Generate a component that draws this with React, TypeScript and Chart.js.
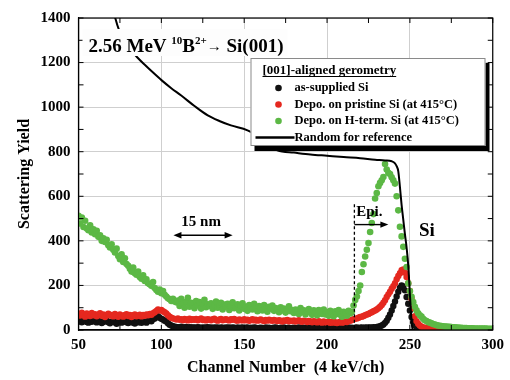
import { useEffect, useRef } from "react";
import { Chart, registerables } from "chart.js";

Chart.register(...registerables);

// ---- data -------------------------------------------------------------
const FIRST_CHANNEL = 50; // channel of the first value in each yield array

// [001]-aligned, as-supplied Si (black)
const asSupplied = [
  38, 42, 35, 40, 44, 36, 33, 41, 37, 45,
  39, 34, 42, 38, 31, 36, 40, 43, 35, 30,
  37, 41, 34, 28, 36, 39, 33, 38, 42, 35,
  31, 36, 40, 33, 29, 37, 34, 39, 32, 36,
  38, 33, 41, 45, 39, 48, 52, 58, 62, 55,
  50, 47, 42, 38, 30, 24, 20, 17, 15, 14,
  13, 12, 15, 11, 12, 14, 10, 13, 12, 11,
  12, 10, 13, 11, 9, 12, 10, 11, 13, 10,
  11, 9, 12, 10, 11, 8, 12, 10, 9, 11,
  10, 12, 9, 11, 10, 8, 11, 9, 10, 12,
  9, 10, 11, 8, 10, 9, 11, 10, 8, 9,
  10, 9, 8, 11, 9, 10, 8, 9, 10, 11,
  9, 8, 10, 9, 11, 8, 9, 10, 8, 9,
  10, 8, 9, 11, 9, 8, 10, 9, 8, 10,
  9, 10, 8, 9, 10, 8, 9, 11, 9, 8,
  10, 9, 8, 10, 9, 11, 9, 8, 10, 9,
  8, 10, 9, 11, 9, 10, 8, 10, 11, 9,
  10, 11, 9, 12, 10, 11, 12, 10, 13, 12,
  14, 15, 17, 20, 25, 32, 42, 55, 70, 88,
  108, 128, 150, 172, 190, 200, 195, 178, 148, 118,
  88, 58, 35, 20, 12, 8, 6, 5, 4, 4,
  3, 4, 3, 2, 3, 2, 3, 2, 2, 3,
  2, 2, 3, 2, 2, 1, 2, 2, 1, 2,
  2, 1, 2, 1, 2, 1, 1, 2, 1, 1,
  1, 2, 1, 1, 1, 2, 1, 1, 1, 1,
  1,
];

// Depo. on pristine Si (red)
const pristine = [
  72, 65, 78, 68, 60, 74, 70, 63, 76, 66,
  71, 62, 69, 75, 64, 70, 58, 67, 73, 65,
  68, 61, 72, 66, 59, 70, 64, 60, 68, 71,
  63, 67, 58, 66, 70, 62, 65, 69, 61, 67,
  64, 70, 66, 72, 68, 75, 80, 86, 92, 88,
  90, 84, 80, 74, 66, 60, 55, 52, 50, 47,
  52, 46, 49, 44, 50, 47, 43, 51, 45, 48,
  46, 50, 44, 48, 52, 45, 47, 43, 49, 46,
  44, 48, 51, 45, 42, 47, 50, 44, 46, 49,
  45, 43, 48, 46, 50, 44, 42, 47, 45, 43,
  48, 44, 46, 41, 45, 49, 43, 46, 42, 45,
  47, 43, 40, 45, 42, 46, 44, 41, 45, 43,
  40, 44, 42, 38, 43, 41, 45, 39, 42, 40,
  43, 38, 41, 44, 39, 37, 42, 40, 36, 41,
  38, 35, 40, 37, 34, 39, 36, 33, 38, 35,
  34, 37, 32, 36, 33, 35, 31, 34, 37, 33,
  35, 38, 36, 40, 42, 45, 48, 50, 52, 55,
  58, 60, 63, 66, 70, 72, 76, 80, 84, 88,
  92, 98, 104, 112, 122, 134, 148, 160, 172, 185,
  196, 210, 228, 242, 255, 268, 272, 258, 238, 210,
  175, 140, 98, 62, 40, 28, 20, 15, 12, 10,
  9, 8, 7, 7, 6, 6, 5, 5, 5, 4,
  4, 4, 4, 3, 3, 3, 3, 3, 3, 2,
  3, 2, 2, 2, 2, 2, 2, 2, 2, 2,
  2, 2, 1, 2, 1, 2, 1, 1, 2, 1,
  1,
];

// Depo. on H-terminated Si (green)
const hTerm = [
  512, 478, 505, 462, 490, 455, 448, 470, 438, 452,
  430, 445, 418, 425, 400, 412, 395, 405, 380, 370,
  385, 360, 348, 365, 332, 318, 340, 305, 322, 296,
  288, 275, 262, 280, 255, 248, 262, 238, 230, 245,
  220, 228, 210, 205, 198, 215, 188, 180, 172, 182,
  165, 175, 158, 150, 142, 138, 130, 140, 128, 124,
  132, 108, 140, 118, 100, 126, 145, 104, 122, 112,
  98, 130, 110, 125, 96, 118, 135, 102, 115, 108,
  120, 95, 112, 128, 100, 108, 122, 92, 114, 105,
  118, 90, 106, 124, 98, 102, 115, 88, 108, 120,
  95, 104, 86, 112, 100, 92, 118, 96, 84, 108,
  100, 88, 112, 94, 82, 104, 96, 110, 86, 98,
  92, 80, 102, 88, 96, 78, 94, 106, 84, 90,
  76, 92, 86, 72, 98, 80, 88, 70, 84, 94,
  78, 68, 88, 82, 66, 90, 76, 72, 92, 70,
  80, 64, 86, 74, 62, 84, 72, 90, 68, 60,
  82, 70, 64, 86, 74, 82, 110, 135, 150, 175,
  200, 260, 295, 330, 360, 390, 440, 480, 520, 590,
  615, 645, 660, 672, 686, 745, 720, 705, 700, 685,
  672, 657, 600, 537, 463, 420, 373, 320, 283, 209,
  175, 149, 125, 104, 88, 75, 66, 60, 50, 44,
  40, 36, 33, 30, 27, 25, 22, 20, 19, 18,
  17, 16, 15, 14, 14, 13, 12, 12, 11, 11,
  10, 10, 9, 9, 9, 8, 8, 8, 8, 7,
  7, 7, 7, 6, 6, 6, 6, 5, 5, 5,
  5,
];

// Random spectrum for reference (black line)
const randomChannels = [
  70, 72, 74.6, 78, 81, 85.4, 90, 95, 100.4, 106, 112, 120, 128, 135, 142,
  152, 160, 170, 180, 190, 200, 210, 220, 229, 235, 239, 241, 242, 243,
  244, 245, 246, 247, 248, 249, 250, 251, 251.6, 253,
];
const randomYield = [
  1470, 1405, 1343, 1295, 1262, 1224, 1190, 1155, 1119, 1085, 1052, 1005, 963, 938, 918,
  896, 860, 806, 796, 788, 782, 776, 771, 764, 761, 757, 748, 735, 712,
  640, 560, 495, 430, 370, 290, 160, 40, 0, 0,
];

const X_MIN = 50, X_MAX = 300, X_STEP = 50, X_MINOR = 25;
const Y_MIN = 0, Y_MAX = 1400, Y_STEP = 200, Y_MINOR = 100;

const legendTitle = "[001]-aligned gerometry";
const seriesNames = [
  "as-supplied Si",
  "Depo. on pristine Si (at 415\u00B0C)",
  "Depo. on H-term. Si (at 415\u00B0C)",
  "Random for reference",
];
const COLORS = { black: "#111111", red: "#e5281f", green: "#5cb845" };
const SERIF = "'Liberation Serif', 'Times New Roman', serif";

const toPoints = (vals: number[]) =>
  vals.map((v, i) => ({ x: FIRST_CHANNEL + i, y: v }));

const overlay = {
  id: "overlay",
  afterDatasetsDraw(chart: any) {
    const { ctx, chartArea: a, scales } = chart;
    const xs = scales.x, ys = scales.y;
    const px = (v: number) => xs.getPixelForValue(v);
    const py = (v: number) => ys.getPixelForValue(v);
    const font = (s: number) => `bold ${s}px ${SERIF}`;
    const line = (x1: number, y1: number, x2: number, y2: number) => {
      ctx.beginPath(); ctx.moveTo(x1, y1); ctx.lineTo(x2, y2); ctx.stroke();
    };
    const head = (x: number, y: number, dir: number) => {
      ctx.beginPath();
      ctx.moveTo(x, y);
      ctx.lineTo(x - dir * 8, y - 3.2);
      ctx.lineTo(x - dir * 8, y + 3.2);
      ctx.closePath(); ctx.fill();
    };
    ctx.save();
    ctx.strokeStyle = "#000"; ctx.fillStyle = "#000";

    // frame + inward ticks
    ctx.lineWidth = 1.2;
    ctx.strokeRect(a.left, a.top, a.right - a.left, a.bottom - a.top);
    ctx.lineWidth = 1;
    for (let c = X_MIN; c <= X_MAX; c += X_MINOR) {
      const p = px(c);
      line(p, a.bottom, p, a.bottom - 5);
      line(p, a.top, p, a.top + 5);
    }
    for (let v = Y_MIN; v <= Y_MAX; v += Y_MINOR) {
      const p = py(v);
      line(a.left, p, a.left + 5, p);
      line(a.right, p, a.right - 5, p);
    }

    // 15 nm double arrow
    ctx.font = font(15); ctx.textBaseline = "middle"; ctx.textAlign = "center";
    ctx.fillText("15 nm", px(124), py(484));
    ctx.lineWidth = 1.4;
    const ay = py(425);
    line(px(107.3) + 4, ay, px(143) - 4, ay);
    head(px(107.3), ay, -1); head(px(143), ay, 1);

    // Epi. marker
    ctx.setLineDash([3, 2.5]); ctx.lineWidth = 1.3;
    line(px(216.5), py(564), px(216.5), a.bottom);
    ctx.setLineDash([]);
    ctx.textAlign = "left";
    ctx.fillText("Epi.", px(217.6), py(528));
    const ey = py(473);
    ctx.lineWidth = 1.4;
    line(px(216.5), ey, px(237) - 4, ey);
    head(px(237), ey, 1);

    // Si surface label
    ctx.font = font(19);
    ctx.fillText("Si", px(255.5), py(443));

    // title box
    const tx = a.left + 10, tb = a.top + 34;
    ctx.fillStyle = "#fdfdfd";
    ctx.fillRect(a.left + 4, a.top + 11, 205, 27);
    ctx.fillStyle = "#000";
    ctx.textBaseline = "alphabetic";
    let cx = tx;
    const put = (t: string, size: number, dy: number) => {
      ctx.font = font(size);
      ctx.fillText(t, cx, tb + dy);
      cx += ctx.measureText(t).width;
    };
    put("2.56 MeV ", 19, 0);
    put("10", 11, -8);
    put("B", 19, 0);
    put("2+", 11, -8);
    put("\u2192", 15, -1);
    put(" Si(001)", 19, 0);

    // legend box with shadow
    const L = a.left + 172, T = a.top + 40, W = 235, H = 88;
    ctx.fillStyle = "#000";
    ctx.fillRect(L + 4, T + 5, W, H);
    ctx.fillStyle = "#ffffff";
    ctx.fillRect(L, T, W, H);
    ctx.strokeStyle = "#8a8a8a"; ctx.lineWidth = 1;
    ctx.strokeRect(L + 0.5, T + 0.5, W - 1, H - 1);
    ctx.fillStyle = "#000"; ctx.strokeStyle = "#000";
    ctx.font = font(13); ctx.textBaseline = "alphabetic"; ctx.textAlign = "left";
    ctx.fillText(legendTitle, L + 12, T + 16);
    const tw = ctx.measureText(legendTitle).width;
    ctx.lineWidth = 1; line(L + 12, T + 18.5, L + 12 + tw, T + 18.5);
    ctx.font = font(12.5); ctx.textBaseline = "middle";
    const rows = [T + 30, T + 46.5, T + 63, T + 79.5];
    const dotColors = [COLORS.black, COLORS.red, COLORS.green];
    for (let i = 0; i < 3; i++) {
      ctx.fillStyle = dotColors[i];
      ctx.beginPath(); ctx.arc(L + 28, rows[i], 3.3, 0, Math.PI * 2); ctx.fill();
      ctx.fillStyle = "#000";
      ctx.fillText(seriesNames[i], L + 44, rows[i]);
    }
    ctx.lineWidth = 2.4;
    line(L + 5, rows[3], L + 44, rows[3]);
    ctx.fillText(seriesNames[3], L + 44, rows[3]);
    ctx.restore();
  },
};

export default function App() {
  const ref = useRef<HTMLCanvasElement | null>(null);
  useEffect(() => {
    if (!ref.current) return;
    const tickFont = { family: SERIF, size: 15, weight: "bold" as const };
    const titleFont = { family: SERIF, size: 16, weight: "bold" as const };
    const plain = (v: any) => String(v);
    const chart = new Chart(ref.current, {
      type: "scatter",
      data: {
        datasets: [
          {
            label: seriesNames[3],
            data: randomChannels.map((c, i) => ({ x: c, y: randomYield[i] })),
            showLine: true,
            pointRadius: 0,
            borderColor: "#000",
            borderWidth: 2,
            cubicInterpolationMode: "monotone",
            order: 0,
          } as any,
          {
            label: seriesNames[2],
            data: toPoints(hTerm),
            pointRadius: 3.3,
            pointBorderWidth: 0,
            backgroundColor: COLORS.green,
            order: 1,
          },
          {
            label: seriesNames[1],
            data: toPoints(pristine),
            pointRadius: 3.2,
            pointBorderWidth: 0,
            backgroundColor: COLORS.red,
            order: 2,
          },
          {
            label: seriesNames[0],
            data: toPoints(asSupplied),
            pointRadius: 3.2,
            pointBorderWidth: 0,
            backgroundColor: COLORS.black,
            order: 3,
          },
        ],
      },
      options: {
        responsive: false,
        animation: false,
        layout: { padding: { top: 18, right: 11.5, left: 0, bottom: 0 } },
        plugins: { legend: { display: false }, tooltip: { enabled: false } },
        scales: {
          x: {
            type: "linear",
            min: X_MIN,
            max: X_MAX,
            afterFit: (s: any) => { s.height = 50; },
            ticks: { stepSize: X_STEP, font: tickFont, color: "#000", padding: 6, maxRotation: 0, callback: plain },
            grid: { color: "#cfcfcf", drawTicks: false },
            border: { color: "#000", width: 1.2 },
            title: {
              display: true,
              text: "Channel Number  (4 keV/ch)",
              font: titleFont,
              color: "#000",
              padding: { top: 0, bottom: 3 },
            },
          },
          y: {
            type: "linear",
            min: Y_MIN,
            max: Y_MAX,
            afterFit: (s: any) => { s.width = 78.5; },
            ticks: { stepSize: Y_STEP, font: tickFont, color: "#000", padding: 8, callback: plain },
            grid: { color: "#cfcfcf", drawTicks: false },
            border: { color: "#000", width: 1.2 },
            title: {
              display: true,
              text: "Scattering Yield",
              font: titleFont,
              color: "#000",
              padding: { top: 15, bottom: 0 },
            },
          },
        },
      },
      plugins: [overlay],
    });
    return () => chart.destroy();
  }, []);
  return (
    <div style={{ position: "fixed", left: 0, top: 0, width: 510, height: 380, background: "#fff" }}>
      <canvas ref={ref} width={510} height={380} style={{ display: "block" }} />
    </div>
  );
}
